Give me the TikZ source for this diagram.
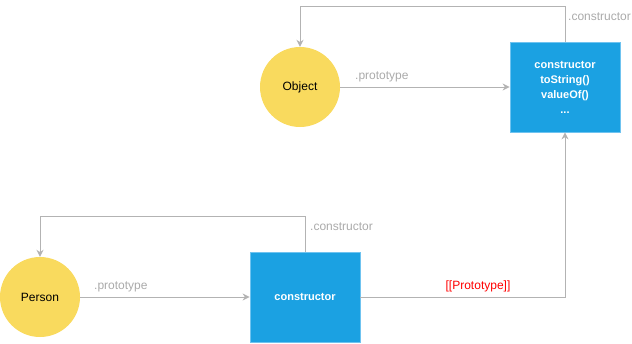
\documentclass[tikz,border=0pt]{standalone}
\usepackage{fontspec}
\setmainfont{Liberation Sans}
\usetikzlibrary{arrows.meta}
\definecolor{ballyellow}{HTML}{F9DA5E}
\definecolor{boxblue}{HTML}{1BA1E2}
\definecolor{boxedge}{HTML}{6FC3F0}
\definecolor{linegray}{HTML}{B3B3B3}
\definecolor{labelgray}{HTML}{AAAAAA}
\definecolor{protored}{HTML}{FF0000}
\begin{document}
\begin{tikzpicture}[x=1pt,y=-1pt,
  ball/.style={circle,fill=ballyellow,draw=none,minimum size=80pt,inner sep=0pt,
    font=\fontsize{12}{14}\selectfont},
  protobox/.style={rectangle,fill=boxblue,draw=boxedge,line width=0.8pt,
    minimum width=110pt,minimum height=90pt,inner sep=0pt,text=white,
    font=\fontsize{11}{15}\selectfont\bfseries,align=center},
  link/.style={draw=linegray,line width=1pt,-{Stealth[length=7pt,width=7pt]}},
  edgelabel/.style={text=labelgray,font=\fontsize{12}{14}\selectfont,inner sep=0pt},
  hiddenlabel/.style={text=protored,font=\fontsize{12}{14}\selectfont,inner sep=0pt}]
  \useasboundingbox (0,0) rectangle (632,343);

  % objects
  \node[ball] (object) at (300,87) {Object};
  \node[protobox] (objproto) at (565,87) {constructor\\toString()\\valueOf()\\...};
  \node[ball] (person) at (40,297) {Person};
  \node[protobox] (personproto) at (305,297) {constructor};

  % Object <-> Object.prototype
  \draw[link] (object.east) -- (objproto.west);
  \draw[link] (objproto.north) -- ++(0,-35) -| (object.north);
  \node[edgelabel,anchor=west] (objprotolbl) at (355,77) {.prototype};
  \node[edgelabel,anchor=west] (objctorlbl) at (568,17) {.constructor};

  % Person <-> Person.prototype
  \draw[link] (person.east) -- (personproto.west);
  \draw[link] (personproto.north) -- ++(0,-35) -| (person.north);
  \node[edgelabel,anchor=west] (perprotolbl) at (94,287) {.prototype};
  \node[edgelabel,anchor=west] (perctorlbl) at (310,227) {.constructor};

  % prototype chain
  \draw[link] (personproto.east) -| (objproto.south);
  \node[hiddenlabel] (chainlbl) at (478,286) {[[Prototype]]};
\end{tikzpicture}
\end{document}
